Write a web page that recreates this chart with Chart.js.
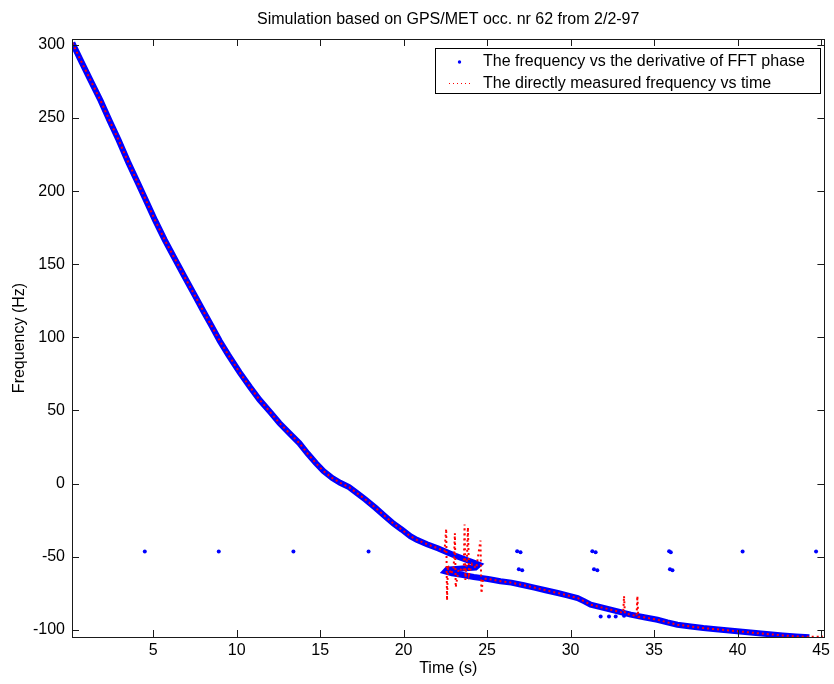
<!DOCTYPE html>
<html>
<head>
<meta charset="utf-8">
<script src="https://cdn.jsdelivr.net/npm/chart.js@4.4.0/dist/chart.umd.min.js"></script>
<style>
  html, body { margin: 0; padding: 0; background: #fff; }
  canvas { display: block; }
</style>
</head>
<body>
<canvas id="grafico" width="834" height="684"></canvas>
<script>
const FONT = "'Liberation Sans', Arial, sans-serif";
const FONT_SIZE = 16;

const chartTitle = 'Simulation based on GPS/MET occ. nr 62 from 2/2-97';
const xLabel = 'Time (s)';
const yLabel = 'Frequency (Hz)';
const legendLabels = ['The frequency vs the derivative of FFT phase', 'The directly measured frequency vs time'];

const xTicks = [5, 10, 15, 20, 25, 30, 35, 40, 45];
const yTicks = [-100, -50, 0, 50, 100, 150, 200, 250, 300];

// frequency from the FFT phase derivative (blue band)
const blueTime = [0.16, 0.6, 1.2, 1.85, 2.4, 2.93, 3.5, 4.13, 4.6, 5.12, 5.7, 6.31, 6.9, 7.5, 8.0, 8.49, 8.99, 9.5, 10.18, 10.8,
  11.37, 12.0, 12.56, 13.2, 13.75, 14.25, 14.74, 15.2, 15.73, 16.2, 16.73, 17.2, 17.72, 18.3, 18.9, 19.4, 19.9, 20.4, 20.79, 21.4,
  22.08, 22.6, 23.1, 23.7, 24.27, 24.5, 24.3, 23.5, 22.6, 22.5, 22.9, 23.47, 24.2, 25.06, 25.8, 26.45, 27.2, 27.83, 28.5, 29.23,
  29.8, 30.42, 30.8, 31.2, 31.8, 32.4, 33.0, 33.6, 34.4, 35.2, 35.8, 36.4, 37.2, 37.95, 38.7, 39.5, 40.3, 41.1, 41.9, 42.7,
  43.5, 44.3];
const blueFreq = [301.5, 291, 277, 262, 248, 235, 220, 204.5, 193, 180, 166.5, 153.5, 141, 128.5, 118, 108, 97.5, 88, 76, 66,
  57.3, 49, 41.4, 34, 27.7, 20.5, 14, 8.5, 3.7, 0.5, -2.5, -6.5, -11, -16.5, -22.5, -27.5, -31.6, -36, -38.5, -41.5,
  -44.5, -47, -49.4, -52, -54.4, -55.5, -57.5, -58.2, -59, -60.2, -61.5, -62.4, -64, -65.3, -66.8, -67.8, -69.6, -71.2, -73, -74.9,
  -76.5, -78.3, -80.5, -82.9, -84.6, -86.3, -88, -89.7, -91.5, -93.2, -95, -96.6, -97.8, -98.9, -99.7, -100.5, -101.4, -102.3, -103.1, -103.9,
  -104.6, -105.1];

// stray blue points
const blueDotTime = [4.5, 8.93, 13.4, 17.9, 26.8, 27.0, 26.9, 27.1, 31.3, 31.5, 31.4, 31.6, 35.9, 36.0, 35.95, 36.1, 40.3, 44.7, 31.8, 32.3, 32.7, 33.2];
const blueDotFreq = [-46.5, -46.5, -46.5, -46.5, -46.3, -47.0, -58.6, -59.4, -46.3, -47.0, -58.6, -59.4, -46.3, -47.0, -58.6, -59.4, -46.5, -46.5, -91, -91, -91, -90.5];

// directly measured frequency (red dotted)
const redTime = [0.16, 0.6, 1.2, 1.85, 2.4, 2.93, 3.5, 4.13, 4.6, 5.12, 5.7, 6.31, 6.9, 7.5, 8.0, 8.49, 8.99, 9.5, 10.18, 10.8,
  11.37, 12.0, 12.56, 13.2, 13.75, 14.25, 14.74, 15.2, 15.73, 16.2, 16.73, 17.2, 17.72, 18.3, 18.9, 19.4, 19.9, 20.4, 20.79, 21.4,
  22.08, 22.45, 22.55, 22.6, 22.65, 22.85, 23.0, 23.07, 23.12, 23.3, 23.6, 23.65, 23.7, 23.8, 23.85, 23.92, 24.1, 24.35, 24.6, 24.66,
  24.75, 25.06, 25.8, 26.45, 27.2, 27.83, 28.5, 29.23, 29.8, 30.42, 30.8, 31.2, 31.8, 32.4, 33.0, 33.15, 33.2, 33.25, 33.6, 33.95,
  34.0, 34.05, 34.4, 35.2, 35.8, 36.4, 37.2, 37.95, 38.7, 39.5, 40.3, 41.1, 41.9, 42.7, 43.5, 44.3, 45.1];
const redFreq = [301.5, 291, 277, 262, 248, 235, 220, 204.5, 193, 180, 166.5, 153.5, 141, 128.5, 118, 108, 97.5, 88, 76, 66,
  57.3, 49, 41.4, 34, 27.7, 20.5, 14, 8.5, 3.7, 0.5, -2.5, -6.5, -11, -16.5, -22.5, -27.5, -31.6, -36, -38.5, -41.5,
  -44.5, -46, -31, -80, -56, -62, -57, -34, -71, -58, -60, -28, -66, -50, -30, -62, -55, -58, -39, -75,
  -65, -65.3, -66.8, -67.8, -69.6, -71.2, -73, -74.9, -76.5, -78.3, -80.5, -82.9, -84.6, -86.3, -88, -88.3, -77, -88.8, -89.7, -90.8,
  -77, -91.2, -91.5, -93.2, -95, -96.6, -97.8, -98.9, -99.7, -100.5, -101.4, -102.3, -103.1, -103.9, -104.6, -104.9, -104.7];

const toPoints = (xs, ys) => xs.map((x, i) => ({ x: x, y: ys[i] }));

// frame, inner ticks, title and legend drawn MATLAB style
const matlabAxes = {
  id: 'matlabAxes',
  afterDraw(chart) {
    const ctx = chart.ctx;
    const area = chart.chartArea;
    const sx = chart.scales.x;
    const sy = chart.scales.y;
    const tl = 7;

    ctx.save();
    ctx.strokeStyle = '#1a1a1a';
    ctx.lineWidth = 1;
    ctx.beginPath();
    xTicks.forEach(v => {
      const px = Math.round(sx.getPixelForValue(v)) + 0.5;
      ctx.moveTo(px, area.bottom); ctx.lineTo(px, area.bottom - tl);
      ctx.moveTo(px, area.top); ctx.lineTo(px, area.top + tl);
    });
    yTicks.forEach(v => {
      const py = Math.round(sy.getPixelForValue(v)) + 0.5;
      ctx.moveTo(area.left, py); ctx.lineTo(area.left + tl, py);
      ctx.moveTo(area.right, py); ctx.lineTo(area.right - tl, py);
    });
    ctx.stroke();
    ctx.strokeRect(Math.round(area.left) + 0.5, Math.round(area.top) + 0.5,
      Math.round(area.right - area.left), Math.round(area.bottom - area.top));

    ctx.fillStyle = '#000';
    ctx.font = FONT_SIZE + 'px ' + FONT;
    ctx.textAlign = 'center';
    ctx.textBaseline = 'middle';
    ctx.fillText(chartTitle, (area.left + area.right) / 2, 19.5);

    // legend box
    const bx = 435.5, by = 48.5, bw = 385, bh = 45;
    ctx.fillStyle = '#fff';
    ctx.fillRect(bx, by, bw, bh);
    ctx.strokeStyle = '#000';
    ctx.strokeRect(bx, by, bw, bh);

    ctx.fillStyle = '#0000ff';
    ctx.beginPath();
    ctx.arc(459.5, 62, 1.7, 0, Math.PI * 2);
    ctx.fill();

    ctx.strokeStyle = '#ff0000';
    ctx.setLineDash([1, 3]);
    ctx.beginPath();
    ctx.moveTo(449, 83.5); ctx.lineTo(471, 83.5);
    ctx.stroke();
    ctx.setLineDash([]);

    ctx.fillStyle = '#000';
    ctx.textAlign = 'left';
    ctx.fillText(legendLabels[0], 483, 62);
    ctx.fillText(legendLabels[1], 483, 83.5);
    ctx.restore();
  }
};

const ctx = document.getElementById('grafico').getContext('2d');
new Chart(ctx, {
  type: 'scatter',
  data: {
    datasets: [
      {
        label: legendLabels[1],
        data: toPoints(redTime, redFreq),
        showLine: true,
        borderColor: '#ff0000',
        borderWidth: 2,
        borderDash: [2, 3],
        pointRadius: 0,
        fill: false,
        order: 0,
        clip: 0
      },
      {
        label: legendLabels[0],
        data: toPoints(blueTime, blueFreq),
        showLine: true,
        borderColor: '#0000ff',
        borderWidth: 6,
        pointRadius: 0,
        fill: false,
        order: 1,
        clip: 0
      },
      {
        label: 'extra',
        data: toPoints(blueDotTime, blueDotFreq),
        showLine: false,
        backgroundColor: '#0000ff',
        borderColor: '#0000ff',
        pointRadius: 2,
        borderWidth: 0,
        order: 2,
        clip: 0
      }
    ]
  },
  options: {
    responsive: false,
    animation: false,
    devicePixelRatio: 1,
    layout: { padding: { top: 39, right: 6, left: 0, bottom: 0 } },
    plugins: {
      legend: { display: false },
      title: { display: false },
      tooltip: { enabled: false }
    },
    scales: {
      x: {
        type: 'linear',
        min: 0.14,
        max: 45.2,
        afterBuildTicks: scale => { scale.ticks = xTicks.map(v => ({ value: v })); },
        afterFit: scale => { scale.height = 47; },
        grid: { display: false, drawTicks: false },
        border: { display: false },
        ticks: { color: '#000', font: { family: FONT, size: FONT_SIZE }, padding: 4, maxRotation: 0 },
        title: { display: true, text: xLabel, color: '#000', font: { family: FONT, size: FONT_SIZE }, padding: { top: 0, bottom: 6 } }
      },
      y: {
        type: 'linear',
        min: -105,
        max: 304.1,
        afterBuildTicks: scale => { scale.ticks = yTicks.map(v => ({ value: v })); },
        afterFit: scale => { scale.width = 72; },
        grid: { display: false, drawTicks: false },
        border: { display: false },
        ticks: { color: '#000', font: { family: FONT, size: FONT_SIZE }, padding: 7 },
        title: { display: true, text: yLabel, color: '#000', font: { family: FONT, size: FONT_SIZE }, padding: { top: 10, bottom: 0 } }
      }
    }
  },
  plugins: [matlabAxes]
});
</script>
</body>
</html>
